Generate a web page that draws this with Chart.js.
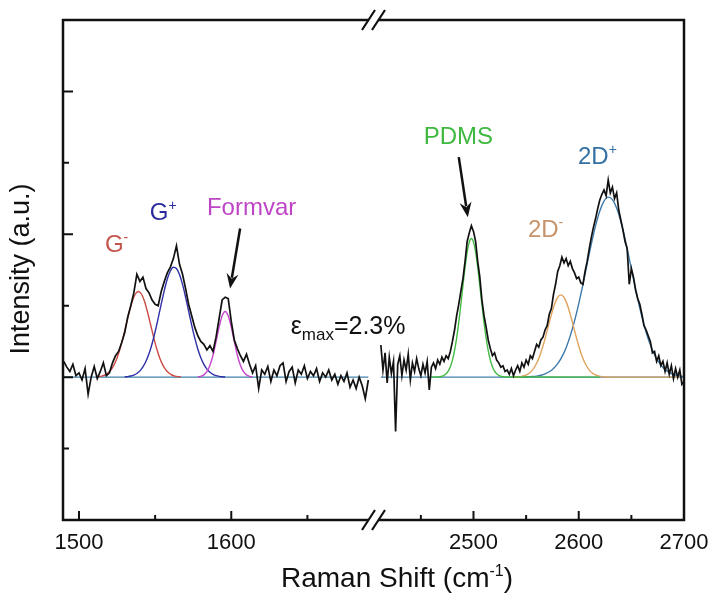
<!DOCTYPE html>
<html>
<head>
<meta charset="UTF-8">
<title>Raman spectrum</title>
<script src="https://cdn.jsdelivr.net/npm/chart.js@4"></script>
<style>
  html, body { margin: 0; padding: 0; background: #fff; }
  #wrap { width: 713px; height: 601px; }
</style>
</head>
<body>
<div id="wrap"><canvas id="raman" width="713" height="601"></canvas></div>
<script>
// measured spectrum, G band window  [shift (cm-1), intensity]
const gBandSpectrum = [
  [1490,0.22],[1492,0.14],[1494,0.08],[1496,0.18],[1498,0.02],[1500,0.06],[1502,-0.04],[1504,0.12],
  [1506,-0.24],[1508,0.00],[1510,0.15],[1512,-0.02],[1514,0.08],[1516,0.20],[1518,0.02],[1520,0.06],
  [1522,0.20],[1524,0.30],[1526,0.36],[1528,0.48],[1530,0.62],[1532,0.84],[1534,1.00],[1536,1.18],
  [1538,1.44],[1540,1.34],[1542,1.40],[1544,1.24],[1546,1.18],[1548,1.08],[1550,1.02],[1552,1.00],
  [1554,1.20],[1556,1.34],[1558,1.46],[1560,1.54],[1562,1.66],[1564,1.84],[1566,1.58],[1568,1.44],
  [1570,1.24],[1572,1.02],[1574,0.86],[1576,0.70],[1578,0.58],[1580,0.50],[1582,0.46],[1584,0.38],
  [1586,0.44],[1588,0.36],[1590,0.56],[1592,0.82],[1594,1.08],[1596,1.12],[1598,1.10],[1600,0.78],
  [1602,0.52],[1604,0.40],[1606,0.30],[1608,0.22],[1610,0.32],[1612,0.18],[1614,0.06],[1616,0.16],
  [1618,-0.16],[1620,0.10],[1622,0.04],[1624,0.15],[1626,-0.06],[1628,0.10],[1630,0.02],[1632,0.16],
  [1634,0.20],[1636,-0.06],[1638,0.08],[1640,0.14],[1642,-0.08],[1644,0.10],[1646,0.04],[1648,0.16],
  [1650,-0.02],[1652,0.08],[1654,0.02],[1656,0.12],[1658,-0.06],[1660,0.06],[1662,0.00],[1664,0.10],
  [1666,-0.04],[1668,0.04],[1670,-0.10],[1672,0.02],[1674,-0.06],[1676,0.06],[1678,-0.14],[1680,-0.04],
  [1682,-0.16],[1684,0.00],[1686,-0.12],[1688,-0.30],[1690,-0.04]
];

// measured spectrum, 2D band window
const twoDSpectrum = [
  [2412,0.45],[2414,0.10],[2416,0.34],[2418,-0.08],[2420,0.28],[2422,0.05],[2424,0.22],[2426,-0.76],
  [2428,0.18],[2430,0.30],[2432,0.02],[2434,0.24],[2436,0.10],[2438,0.32],[2440,-0.04],[2442,0.20],
  [2444,0.08],[2446,0.26],[2448,0.12],[2450,0.02],[2452,0.18],[2454,0.06],[2456,0.22],[2458,-0.18],
  [2460,0.14],[2462,0.20],[2464,0.12],[2466,0.24],[2468,0.18],[2470,0.28],[2472,0.22],[2474,0.30],
  [2476,0.26],[2478,0.36],[2480,0.50],[2482,0.66],[2484,0.86],[2486,1.02],[2488,1.20],[2490,1.38],
  [2492,1.62],[2494,1.90],[2496,2.02],[2498,2.12],[2500,2.04],[2502,1.90],[2504,1.62],[2506,1.40],
  [2508,1.08],[2510,0.86],[2512,0.70],[2514,0.52],[2516,0.40],[2518,0.30],[2520,0.34],[2522,0.24],
  [2524,0.20],[2526,0.14],[2528,0.16],[2530,0.08],[2532,0.10],[2534,0.04],[2536,0.12],[2538,0.02],
  [2540,0.10],[2542,0.16],[2544,0.08],[2546,0.20],[2548,0.14],[2550,0.24],[2552,0.18],[2554,0.30],
  [2556,0.26],[2558,0.36],[2560,0.46],[2562,0.42],[2564,0.52],[2566,0.56],[2568,0.66],[2570,0.72],
  [2572,0.88],[2574,0.96],[2576,1.16],[2578,1.30],[2580,1.48],[2582,1.56],[2584,1.68],[2586,1.60],
  [2588,1.66],[2590,1.56],[2592,1.62],[2594,1.52],[2596,1.46],[2598,1.38],[2600,1.40],[2602,1.32],
  [2604,1.30],[2606,1.48],[2608,1.62],[2610,1.80],[2612,1.96],[2614,2.10],[2616,2.22],[2618,2.36],
  [2620,2.48],[2622,2.56],[2624,2.62],[2626,2.54],[2628,2.76],[2630,2.58],[2632,2.66],[2634,2.50],
  [2636,2.58],[2638,2.34],[2640,2.20],[2642,2.06],[2644,1.90],[2646,1.80],[2648,1.30],[2650,1.52],
  [2652,1.40],[2654,1.22],[2656,1.10],[2658,1.02],[2660,0.88],[2662,0.72],[2664,0.66],[2666,0.58],
  [2668,0.50],[2670,0.34],[2672,0.36],[2674,0.22],[2676,0.30],[2678,0.16],[2680,0.22],[2682,0.08],
  [2684,0.20],[2686,0.04],[2688,0.16],[2690,-0.02],[2692,0.12],[2694,0.00],[2696,0.10],[2698,-0.10],
  [2700,-0.06]
];

// fitted components
const gMinusFit = [
  [1511,0.003],[1513,0.007],[1515,0.015],[1517,0.030],[1519,0.057],[1521,0.102],[1523,0.171],[1525,0.269],
  [1527,0.400],[1529,0.560],[1531,0.737],[1533,0.912],[1535,1.062],[1537,1.164],[1539,1.200],[1541,1.164],
  [1543,1.062],[1545,0.912],[1547,0.737],[1549,0.560],[1551,0.400],[1553,0.269],[1555,0.171],[1557,0.102],
  [1559,0.057],[1561,0.030],[1563,0.015],[1565,0.007],[1567,0.003]
];
const gPlusFit = [
  [1530,0.004],[1532,0.008],[1534,0.016],[1536,0.029],[1538,0.051],[1540,0.088],[1542,0.143],[1544,0.222],
  [1546,0.330],[1548,0.468],[1550,0.636],[1552,0.825],[1554,1.023],[1556,1.212],[1558,1.373],[1560,1.486],
  [1562,1.538],[1564,1.520],[1566,1.437],[1568,1.298],[1570,1.120],[1572,0.924],[1574,0.729],[1576,0.549],
  [1578,0.395],[1580,0.272],[1582,0.179],[1584,0.113],[1586,0.068],[1588,0.039],[1590,0.021],[1592,0.011],
  [1594,0.005],[1596,0.002]
];
const formvarFit = [
  [1578,0.003],[1580,0.011],[1582,0.032],[1584,0.078],[1586,0.166],[1588,0.307],[1590,0.496],[1592,0.699],
  [1594,0.859],[1596,0.920],[1598,0.859],[1600,0.699],[1602,0.496],[1604,0.307],[1606,0.166],[1608,0.078],
  [1610,0.032],[1612,0.011],[1614,0.003]
];
const pdmsFit = [
  [2460,0],[2464,0.001],[2466,0.003],[2468,0.006],[2470,0.012],[2472,0.025],[2474,0.047],[2476,0.085],
  [2478,0.147],[2480,0.239],[2482,0.372],[2484,0.548],[2486,0.766],[2488,1.017],[2490,1.283],[2492,1.538],
  [2494,1.750],[2496,1.890],[2498,1.940],[2500,1.890],[2502,1.750],[2504,1.538],[2506,1.283],[2508,1.017],
  [2510,0.766],[2512,0.548],[2514,0.372],[2516,0.239],[2518,0.147],[2520,0.085],[2522,0.047],[2524,0.025],
  [2526,0.012],[2528,0.006],[2530,0.003],[2532,0.001],[2620,0]
];
const twoDMinusFit = [
  [2536,0],[2540,0.002],[2544,0.007],[2548,0.019],[2552,0.046],[2556,0.099],[2560,0.194],[2562,0.262],
  [2564,0.342],[2566,0.435],[2568,0.540],[2570,0.652],[2572,0.766],[2574,0.876],[2576,0.975],[2578,1.057],
  [2580,1.116],[2582,1.146],[2583,1.150],[2584,1.146],[2586,1.116],[2588,1.057],[2590,0.975],[2592,0.876],
  [2594,0.766],[2596,0.652],[2598,0.540],[2600,0.435],[2602,0.342],[2604,0.262],[2606,0.194],[2610,0.099],
  [2614,0.046],[2618,0.019],[2622,0.007],[2626,0.002],[2632,0],[2696,0]
];
const twoDPlusFit = [
  [2540,0],[2550,0.003],[2556,0.008],[2560,0.014],[2564,0.026],[2568,0.045],[2572,0.075],[2576,0.121],
  [2580,0.189],[2584,0.284],[2588,0.413],[2592,0.581],[2596,0.787],[2600,1.030],[2604,1.300],[2608,1.586],
  [2612,1.867],[2616,2.122],[2620,2.327],[2624,2.464],[2628,2.520],[2632,2.486],[2636,2.368],[2640,2.177],
  [2644,1.934],[2648,1.657],[2652,1.371],[2656,1.095],[2660,0.844],[2664,0.628],[2668,0.452],[2672,0.314],
  [2676,0.210],[2680,0.136],[2684,0.085],[2688,0.051],[2692,0.030],[2696,0.017],[2700,0.009]
];
const baselineLeft = [[1489.5,0],[1690,0]];
const baselineRight = [[2412,0],[2700,0]];

const xTickValues = [1500, 1550, 1600, 1650, 2450, 2500, 2550, 2600, 2650, 2700];
const xTickLabels = ['1500', '', '1600', '', '', '2500', '', '2600', '', '2700'];
const yTickValues = [-1, 0, 1, 2, 3, 4];
const yMajorTicks = [0, 2, 4];

// peak labels and arrows, in data units
const peakLabels = [
  { text: 'G', sup: '-', x: 1517, y: 1.75, color: '#c4554c' },
  { text: 'G', sup: '+', x: 1546.5, y: 2.2, color: '#2b2b9c' },
  { text: 'Formvar', x: 1584, y: 2.27, color: '#be46c6' },
  { text: 'PDMS', x: 2452.7, y: 3.26, color: '#3fb83f' },
  { text: '2D', sup: '-', x: 2551.7, y: 1.96, color: '#c6936a' },
  { text: '2D', sup: '+', x: 2599.3, y: 2.99, color: '#3570a2' }
];
const arrows = [
  { from: [1605.8, 2.08], to: [1599.2, 1.24] },
  { from: [2486, 3.08], to: [2494.6, 2.24] }
];

// broken x axis: right window is squeezed and joined after the left one
const leftEnd = 1693.4, rightStart = 2405, rightScale = 0.6912;
function toAxis(x) { return x < 2000 ? x : leftEnd + (x - rightStart) * rightScale; }
function series(points) { return points.map(p => ({ x: toAxis(p[0]), y: p[1] })); }

const FONT = '"Liberation Sans", Arial, sans-serif';

function drawParts(ctx, parts, x, y) {
  parts.forEach(p => {
    ctx.font = p.size + 'px ' + FONT;
    ctx.fillText(p.t, x, y + (p.dy || 0));
    x += ctx.measureText(p.t).width + (p.gap || 0);
  });
  return x;
}
function partsWidth(ctx, parts) {
  let w = 0;
  parts.forEach(p => { ctx.font = p.size + 'px ' + FONT; w += ctx.measureText(p.t).width + (p.gap || 0); });
  return w;
}

const framePlugin = {
  id: 'frame',
  afterDraw(chart) {
    const { ctx, chartArea: a } = chart;
    const xs = chart.scales.x, ys = chart.scales.y;
    const px = v => xs.getPixelForValue(toAxis(v));
    const py = v => ys.getPixelForValue(v);
    const bx = xs.getPixelForValue(leftEnd);
    ctx.save();

    // frame, open at the break
    ctx.strokeStyle = '#111';
    ctx.lineWidth = 2.5;
    ctx.lineJoin = 'miter';
    ctx.beginPath();
    ctx.moveTo(bx - 5, a.top); ctx.lineTo(a.left, a.top); ctx.lineTo(a.left, a.bottom); ctx.lineTo(bx - 5, a.bottom);
    ctx.moveTo(bx + 5, a.top); ctx.lineTo(a.right, a.top); ctx.lineTo(a.right, a.bottom); ctx.lineTo(bx + 5, a.bottom);
    ctx.stroke();

    // break marks
    ctx.lineWidth = 2.2;
    ctx.beginPath();
    [a.top, a.bottom].forEach(yy => {
      [-5, 5].forEach(d => {
        ctx.moveTo(bx + d - 6.5, yy + 10);
        ctx.lineTo(bx + d + 6.5, yy - 10);
      });
    });
    ctx.stroke();

    // inward ticks
    ctx.lineWidth = 2;
    ctx.beginPath();
    xTickValues.forEach((v, i) => {
      if (v === 2700) return;
      const len = xTickLabels[i] ? 9 : 5;
      const x = px(v);
      ctx.moveTo(x, a.bottom); ctx.lineTo(x, a.bottom - len);
    });
    yTickValues.forEach(v => {
      const len = yMajorTicks.includes(v) ? 10 : 6;
      const y = py(v);
      ctx.moveTo(a.left, y); ctx.lineTo(a.left + len, y);
    });
    ctx.stroke();

    // peak labels
    ctx.textBaseline = 'alphabetic';
    ctx.textAlign = 'left';
    peakLabels.forEach(l => {
      ctx.fillStyle = l.color;
      const parts = [{ t: l.text, size: 24 }];
      if (l.sup) parts.push({ t: l.sup === '-' ? '-' : '+', size: 14, dy: -10 });
      drawParts(ctx, parts, px(l.x), py(l.y));
    });

    // arrows
    ctx.strokeStyle = '#111';
    ctx.fillStyle = '#111';
    arrows.forEach(ar => {
      const x0 = px(ar.from[0]), y0 = py(ar.from[1]);
      const x1 = px(ar.to[0]), y1 = py(ar.to[1]);
      const ang = Math.atan2(y1 - y0, x1 - x0);
      const hl = 15, hw = 6;
      const bxh = x1 - hl * Math.cos(ang), byh = y1 - hl * Math.sin(ang);
      ctx.lineWidth = 2.5;
      ctx.beginPath();
      ctx.moveTo(x0, y0); ctx.lineTo(bxh + 4 * Math.cos(ang), byh + 4 * Math.sin(ang));
      ctx.stroke();
      ctx.beginPath();
      ctx.moveTo(x1, y1);
      ctx.lineTo(bxh - hw * Math.sin(ang), byh + hw * Math.cos(ang));
      ctx.lineTo(bxh + 5 * Math.cos(ang), byh + 5 * Math.sin(ang));
      ctx.lineTo(bxh + hw * Math.sin(ang), byh - hw * Math.cos(ang));
      ctx.closePath();
      ctx.fill();
    });

    // strain note
    ctx.fillStyle = '#111';
    drawParts(ctx, [
      { t: '\u03b5', size: 25 },
      { t: 'max', size: 17, dy: 6 },
      { t: '=2.3%', size: 25 }
    ], px(1639), py(0.61));

    // axis titles
    const xt = [
      { t: 'Raman Shift (cm', size: 28 },
      { t: '-1', size: 16, dy: -11 },
      { t: ')', size: 28 }
    ];
    const w = partsWidth(ctx, xt);
    drawParts(ctx, xt, 397 - w / 2, 587);

    ctx.translate(22, 269);
    ctx.rotate(-Math.PI / 2);
    ctx.font = '27px ' + FONT;
    ctx.textAlign = 'center';
    ctx.textBaseline = 'middle';
    ctx.fillText('Intensity (a.u.)', 0, 0);
    ctx.restore();
  }
};

function line(points, color, width, smooth) {
  return {
    data: series(points),
    borderColor: color,
    borderWidth: width,
    pointRadius: 0,
    fill: false,
    tension: 0,
    cubicInterpolationMode: smooth ? 'monotone' : 'default'
  };
}

new Chart(document.getElementById('raman'), {
  type: 'line',
  data: {
    datasets: [
      line(gBandSpectrum, '#111111', 1.7, false),
      line(twoDSpectrum, '#111111', 1.7, false),
      line(pdmsFit, '#44bb44', 1.4, true),
      line(twoDMinusFit, '#e0a25c', 1.4, true),
      line(twoDPlusFit, '#3d7aab', 1.4, true),
      line(formvarFit, '#c646cc', 1.4, true),
      line(gPlusFit, '#2f2fa8', 1.4, true),
      line(gMinusFit, '#cc4a44', 1.4, true),
      line(baselineLeft, '#3f80aa', 1.4, false),
      line(baselineRight, '#3f80aa', 1.4, false)
    ]
  },
  options: {
    responsive: false,
    animation: false,
    devicePixelRatio: 1,
    layout: { padding: { left: 63, right: 29, top: 20, bottom: 0 } },
    plugins: { legend: { display: false }, tooltip: { enabled: false } },
    scales: {
      x: {
        type: 'linear',
        min: 1489.5,
        max: toAxis(2700),
        afterBuildTicks: axis => { axis.ticks = xTickValues.map(v => ({ value: toAxis(v) })); },
        afterFit: axis => { axis.height = 81; axis.paddingLeft = 0; axis.paddingRight = 0; },
        grid: { drawOnChartArea: false, drawTicks: false },
        border: { display: false },
        ticks: {
          autoSkip: false,
          maxRotation: 0,
          padding: 10,
          color: '#111',
          font: { family: FONT, size: 22 },
          callback: (value, index) => xTickLabels[index]
        }
      },
      y: { type: 'linear', min: -2, max: 5, display: false }
    }
  },
  plugins: [framePlugin]
});
</script>
</body>
</html>
